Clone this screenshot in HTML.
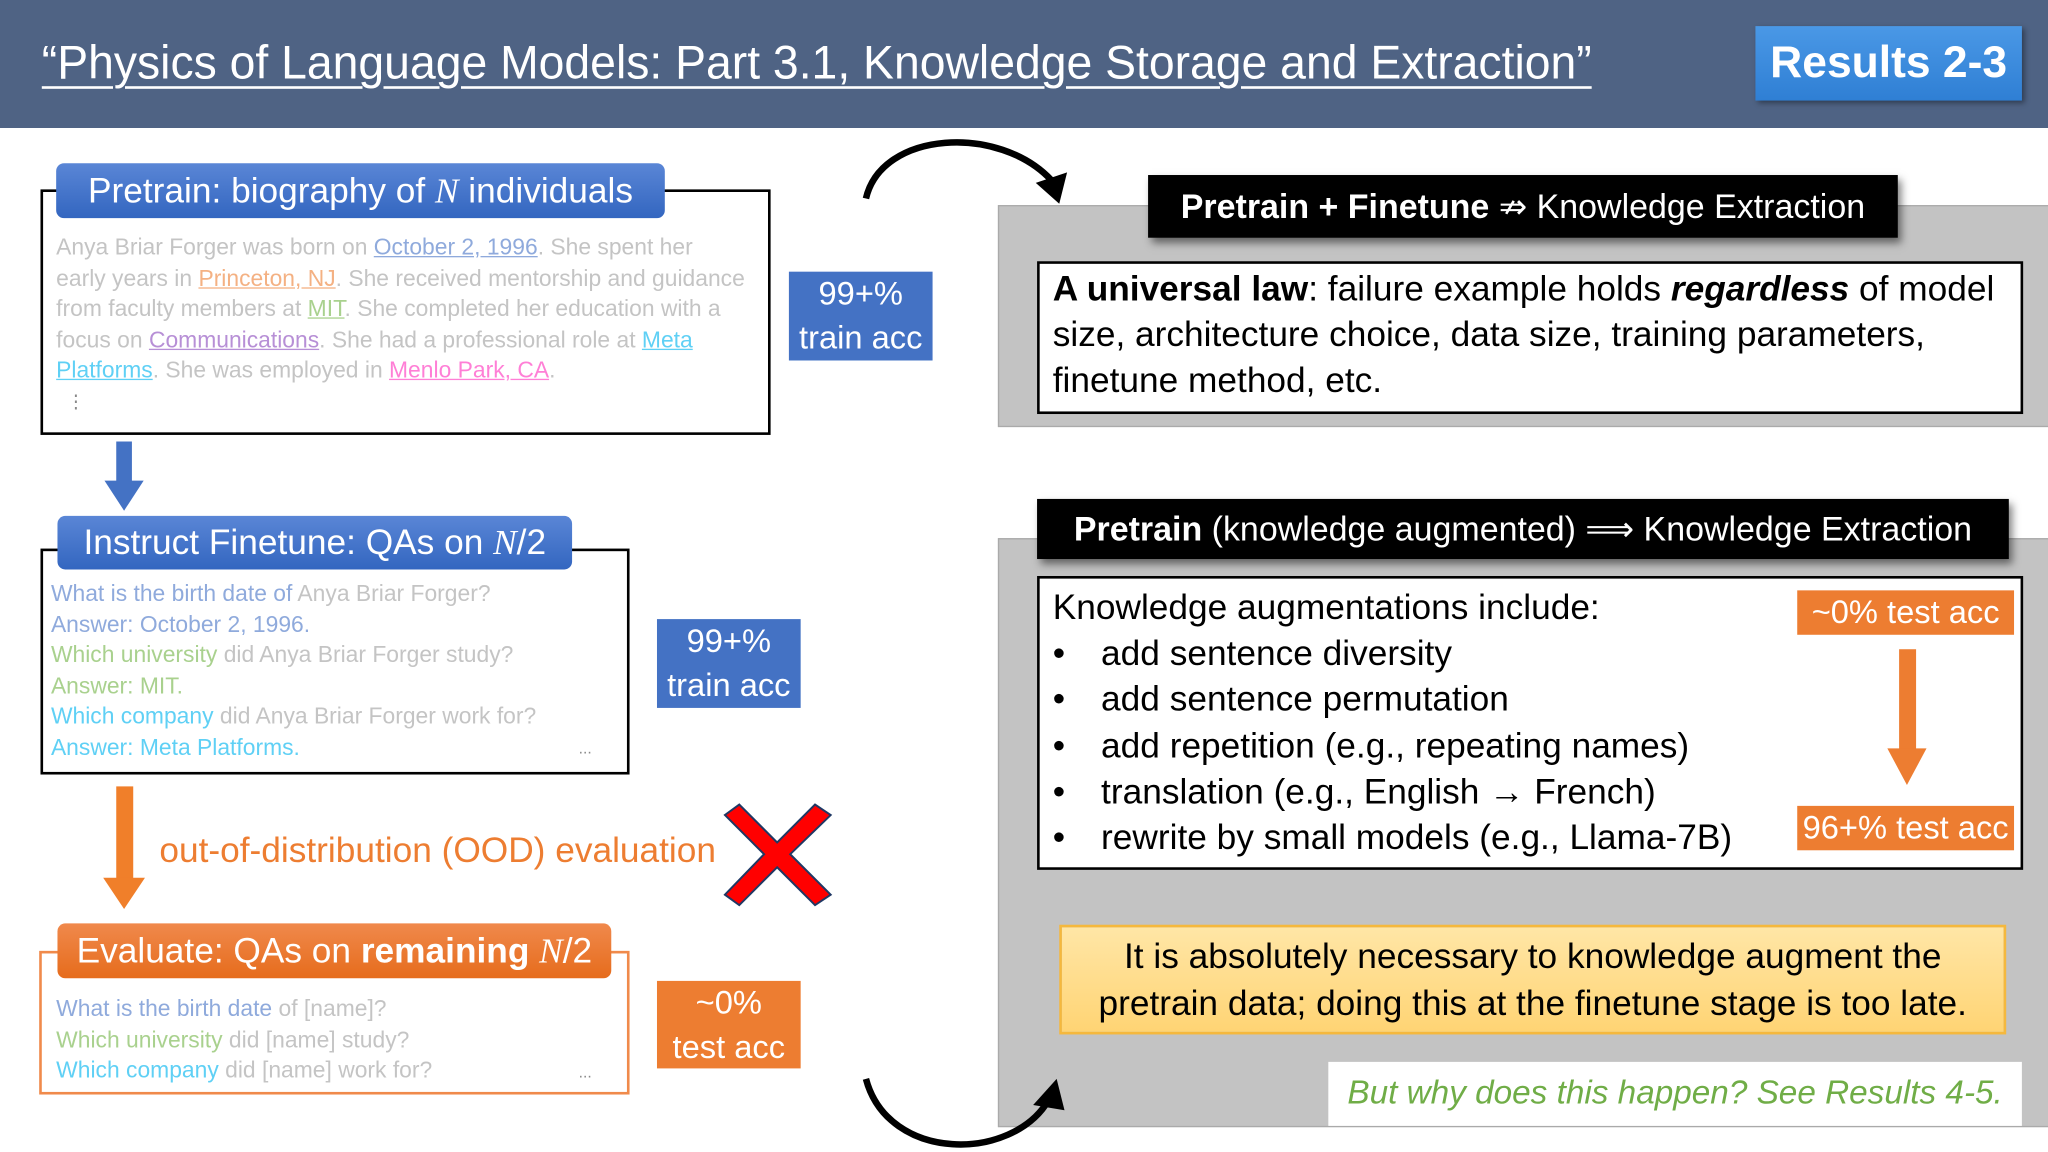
<!DOCTYPE html>
<html><head><meta charset="utf-8"><style>
*{margin:0;padding:0;box-sizing:border-box}
body{width:2048px;height:1152px;overflow:hidden;background:#fff;font-family:"Liberation Sans",sans-serif}
#s{position:absolute;left:0;top:0;width:1568px;height:882px;transform:scale(1.306122);transform-origin:0 0}
.a{position:absolute}
.t{position:absolute;white-space:nowrap;transform:scaleX(1);transform-origin:0 50%}
.c{position:absolute;display:flex;align-items:center;justify-content:center;text-align:center}
.c span{display:inline-block;white-space:nowrap}
.g{color:#c4c4c4}
.u{text-decoration:underline}
i.m{font-family:"Liberation Serif",serif;font-style:italic}
.b{display:inline-block;width:37px}
</style></head><body><div id="s">
<div class="a" style="left:0;top:0;width:1568px;height:98px;background:#4f6384"></div>
<div class="t" style="left:32px;top:26px;font-size:36px;color:#fff;line-height:44px;text-decoration:underline;text-decoration-thickness:2px;text-underline-offset:6px;transform:scaleX(.985)">“Physics of Language Models: Part 3.1, Knowledge Storage and Extraction”</div>
<div class="c" style="left:1344px;top:20px;width:204px;height:57px;background:linear-gradient(#4a98e6,#2f7fd4);color:#fff;font-weight:bold;font-size:34px;box-shadow:2px 2px 4px rgba(0,0,0,.4)"><span>Results 2-3</span></div>

<div class="a" style="left:31px;top:145px;width:559px;height:188px;border:2px solid #000"></div>
<div class="c" style="left:43px;top:125px;width:466px;height:42px;border-radius:6px;background:linear-gradient(#5a86d6,#3366c0);color:#fff;font-size:27px"><span>Pretrain: biography of <i class="m">N</i> individuals</span></div>
<div class="a g" style="left:43px;top:178px;font-size:17.5px;line-height:23.6px">
<div class="t" style="position:relative">Anya Briar Forger was born on <span class="u" style="color:#8faadc">October 2, 1996</span>. She spent her</div>
<div class="t" style="position:relative">early years in <span class="u" style="color:#f4b183">Princeton, NJ</span>. She received mentorship and guidance</div>
<div class="t" style="position:relative">from faculty members at <span class="u" style="color:#a9d18e">MIT</span>. She completed her education with a</div>
<div class="t" style="position:relative">focus on <span class="u" style="color:#b78fd6">Communications</span>. She had a professional role at <span class="u" style="color:#5fd0f5">Meta</span></div>
<div class="t" style="position:relative"><span class="u" style="color:#5fd0f5">Platforms</span>. She was employed in <span class="u" style="color:#ff7fd6">Menlo Park, CA</span>.</div>
<div class="t" style="position:relative;padding-left:8px;font-size:14px;color:#888">⋮</div>
</div>
<div class="c" style="left:604px;top:208px;width:110px;height:68px;background:#4472c4;color:#fff;font-size:25px;line-height:34px"><span>99+%<br>train acc</span></div>

<svg class="a" style="left:78px;top:338px" width="34" height="54"><rect x="11" y="0" width="12" height="32" fill="#4472c4"/><polygon points="2,30 32,30 17,53" fill="#4472c4"/></svg>

<div class="a" style="left:31px;top:420px;width:451px;height:173px;border:2px solid #000"></div>
<div class="c" style="left:44px;top:395px;width:394px;height:41px;border-radius:6px;background:linear-gradient(#5a86d6,#3366c0);color:#fff;font-size:27px"><span>Instruct Finetune: QAs on <i class="m">N</i>/2</span></div>
<div class="a g" style="left:39px;top:443px;font-size:17.5px;line-height:23.5px">
<div class="t" style="position:relative"><span style="color:#8faadc">What is the birth date of</span> Anya Briar Forger?</div>
<div class="t" style="position:relative;color:#8faadc">Answer: October 2, 1996.</div>
<div class="t" style="position:relative"><span style="color:#a9d18e">Which university</span> did Anya Briar Forger study?</div>
<div class="t" style="position:relative;color:#a9d18e">Answer: MIT.</div>
<div class="t" style="position:relative"><span style="color:#5fd0f5">Which company</span> did Anya Briar Forger work for?</div>
<div class="t" style="position:relative;color:#5fd0f5">Answer: Meta Platforms.</div>
</div>
<div class="a" style="left:443px;top:566px;font-size:12px;color:#888">...</div>
<div class="c" style="left:503px;top:474px;width:110px;height:68px;background:#4472c4;color:#fff;font-size:25px;line-height:34px"><span>99+%<br>train acc</span></div>

<svg class="a" style="left:78px;top:602px" width="34" height="95"><rect x="11" y="0" width="13" height="72" fill="#f07f2a"/><polygon points="1,70 33,70 17,94" fill="#f07f2a"/></svg>
<div class="t" style="left:122px;top:634px;font-size:27px;color:#ed7d31;line-height:34px">out-of-distribution (OOD) evaluation</div>
<svg class="a" style="left:553px;top:614px" width="86" height="81"><polygon points="2,10 13,2 42,31 71,2 83,10 52,40 83,71 71,79 42,50 13,79 2,71 32,40" fill="#f00" stroke="#1f3864" stroke-width="1.5"/></svg>

<div class="a" style="left:30px;top:728px;width:452px;height:110px;border:2px solid #f08a4b"></div>
<div class="c" style="left:44px;top:707px;width:424px;height:42px;border-radius:6px;background:linear-gradient(#f0894c,#e66c1c);color:#fff;font-size:27px"><span>Evaluate: QAs on <b>remaining</b> <i class="m">N</i>/2</span></div>
<div class="a g" style="left:43px;top:761px;font-size:17.5px;line-height:23.5px">
<div class="t" style="position:relative"><span style="color:#8faadc">What is the birth date</span> of [name]?</div>
<div class="t" style="position:relative"><span style="color:#a9d18e">Which university</span> did [name] study?</div>
<div class="t" style="position:relative"><span style="color:#5fd0f5">Which company</span> did [name] work for?</div>
</div>
<div class="a" style="left:443px;top:814px;font-size:12px;color:#888">...</div>
<div class="c" style="left:503px;top:751px;width:110px;height:67px;background:#ed7d31;color:#fff;font-size:25px;line-height:34px"><span>~0%<br>test acc</span></div>

<div class="a" style="left:764px;top:157px;width:810px;height:170px;background:#c3c3c3;border:1px solid #aaa"></div>
<div class="c" style="left:879px;top:134px;width:574px;height:48px;background:#000;color:#fff;font-size:26px;box-shadow:3px 4px 6px rgba(0,0,0,.5)"><span><b>Pretrain + Finetune</b> ⇏ Knowledge Extraction</span></div>
<div class="a" style="left:794px;top:200px;width:755px;height:117px;background:#fff;border:2px solid #000"></div>
<div class="a" style="left:806px;top:204px;font-size:27px;line-height:35px">
<div class="t" style="position:relative"><b>A universal law</b>: failure example holds <b><i>regardless</i></b> of model</div>
<div class="t" style="position:relative">size, architecture choice, data size, training parameters,</div>
<div class="t" style="position:relative">finetune method, etc.</div>
</div>

<div class="a" style="left:764px;top:412px;width:810px;height:451px;background:#c3c3c3;border:1px solid #aaa"></div>
<div class="c" style="left:794px;top:382px;width:744px;height:46px;background:#000;color:#fff;font-size:26px;box-shadow:3px 4px 6px rgba(0,0,0,.5)"><span><b>Pretrain</b> (knowledge augmented) ⟹ Knowledge Extraction</span></div>
<div class="a" style="left:794px;top:441px;width:755px;height:225px;background:#fff;border:2px solid #000"></div>
<div class="a" style="left:806px;top:448px;font-size:27px;line-height:35.2px">
<div class="t" style="position:relative">Knowledge augmentations include:</div>
<div class="t" style="position:relative"><span class="b">•</span>add sentence diversity</div>
<div class="t" style="position:relative"><span class="b">•</span>add sentence permutation</div>
<div class="t" style="position:relative"><span class="b">•</span>add repetition (e.g., repeating names)</div>
<div class="t" style="position:relative"><span class="b">•</span>translation (e.g., English → French)</div>
<div class="t" style="position:relative"><span class="b">•</span>rewrite by small models (e.g., Llama-7B)</div>
</div>
<div class="c" style="left:1376px;top:452px;width:166px;height:34px;background:#ed7d31;color:#fff;font-size:25px"><span>~0% test acc</span></div>
<div class="c" style="left:1376px;top:617px;width:166px;height:34px;background:#ed7d31;color:#fff;font-size:25px"><span>96+% test acc</span></div>
<svg class="a" style="left:1444px;top:497px" width="32" height="106"><rect x="10" y="0" width="13" height="78" fill="#ed7d31"/><polygon points="1,76 31,76 16,104" fill="#ed7d31"/></svg>

<div class="c" style="left:811px;top:708px;width:725px;height:84px;background:linear-gradient(#ffe6a6,#ffd474);border:2px solid #f5b83d;color:#000;font-size:27px;line-height:36px"><span>It is absolutely necessary to knowledge augment the<br>pretrain data; doing this at the finetune stage is too late.</span></div>
<div class="c" style="left:1017px;top:813px;width:531px;height:49px;background:#fff;color:#70ad47;font-size:25.5px;font-style:italic"><span>But why does this happen? See Results 4-5.</span></div>

<svg class="a" style="left:655px;top:100px" width="170" height="60"><path d="M8,52 C20,0 110,-5 150,38" fill="none" stroke="#000" stroke-width="5"/><polygon points="138,40 162,32 156,56" fill="#000"/></svg>
<svg class="a" style="left:655px;top:820px" width="170" height="62"><path d="M8,6 C25,70 120,70 148,22" fill="none" stroke="#000" stroke-width="5"/><polygon points="136,26 160,30 154,6" fill="#000"/></svg>
</div></body></html>
